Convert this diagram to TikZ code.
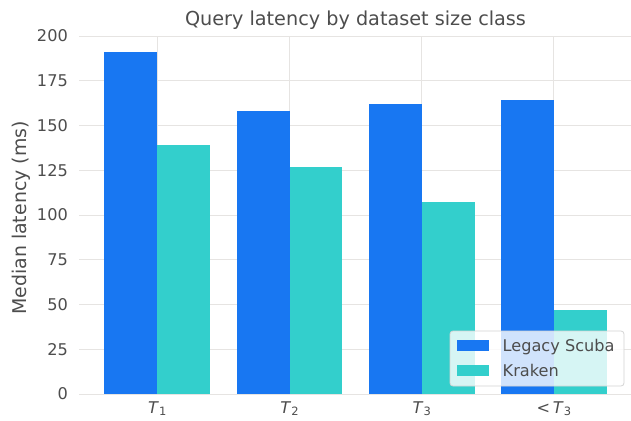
\documentclass[tikz,border=0pt]{standalone}
\usepackage{fontspec}
\setmainfont{DejaVu Sans}
\begin{document}
\begin{tikzpicture}[x=1bp,y=-1bp,
  txt/.style={text=textgray,inner sep=0pt,font=\fontsize{16.2}{16.2}\selectfont},
  grid/.style={draw=gridgray,line width=1bp},
  blueBar/.style={fill=barblue,draw=none},
  tealBar/.style={fill=barteal,draw=none}]
\definecolor{textgray}{HTML}{4D4D4D}
\definecolor{gridgray}{HTML}{E6E4E2}
\definecolor{barblue}{HTML}{1877F2}
\definecolor{barteal}{HTML}{33CFCC}
\definecolor{legedge}{HTML}{D4D4D4}
\newcommand{\subnum}[1]{\raisebox{-0.3ex}{\fontsize{11.5}{11.5}\selectfont #1}}
\useasboundingbox[fill=white] (0,0) rectangle (631,420);
% gridlines
\foreach \v in {0,25,...,200}{
  \draw[grid] (79,{394-1.79*\v}) -- (632,{394-1.79*\v});
  \node[txt,anchor=east] (yt\v) at (68,{394-1.79*\v}) {\v};
}
\foreach \i in {0,1,2,3}{
  \draw[grid] ({157.3+132.2*\i},36) -- ({157.3+132.2*\i},394);
}
% bars
\foreach \i/\a/\b in {0/191/139,1/158/127,2/162/107,3/164/47}{
  \fill[blueBar] ({157.3+132.2*\i-52.9},394) rectangle ({157.3+132.2*\i},{394-1.79*\a});
  \fill[tealBar] ({157.3+132.2*\i},394) rectangle ({157.3+132.2*\i+52.9},{394-1.79*\b});
}
% x tick labels
\node[txt,anchor=base] (x1) at (157.3,413) {\textit{T}\subnum{1}};
\node[txt,anchor=base] (x2) at (289.5,413) {\textit{T}\subnum{2}};
\node[txt,anchor=base] (x3) at (421.7,413) {\textit{T}\subnum{3}};
\node[txt,anchor=base] (x4) at (553.9,413) {<\,\textit{T}\subnum{3}};
% axis label and title
\node[txt,rotate=90,font=\fontsize{19}{19}\selectfont] (ylab) at (21,218) {Median latency (ms)};
\node[txt,anchor=base,font=\fontsize{19.3}{19.3}\selectfont] (title) at (355.5,25) {Query latency by dataset size class};
% legend
\draw[draw=legedge,fill=white,fill opacity=0.8,rounded corners=3bp,line width=0.8bp] (450,331) rectangle (624,386);
\fill[barblue] (457,340) rectangle (489,351);
\fill[barteal] (457,364.5) rectangle (489,375.5);
\node[txt,anchor=base west] (l1) at (502.5,351.7) {Legacy Scuba};
\node[txt,anchor=base west] (l2) at (502.5,376.7) {Kraken};
\end{tikzpicture}
\end{document}
